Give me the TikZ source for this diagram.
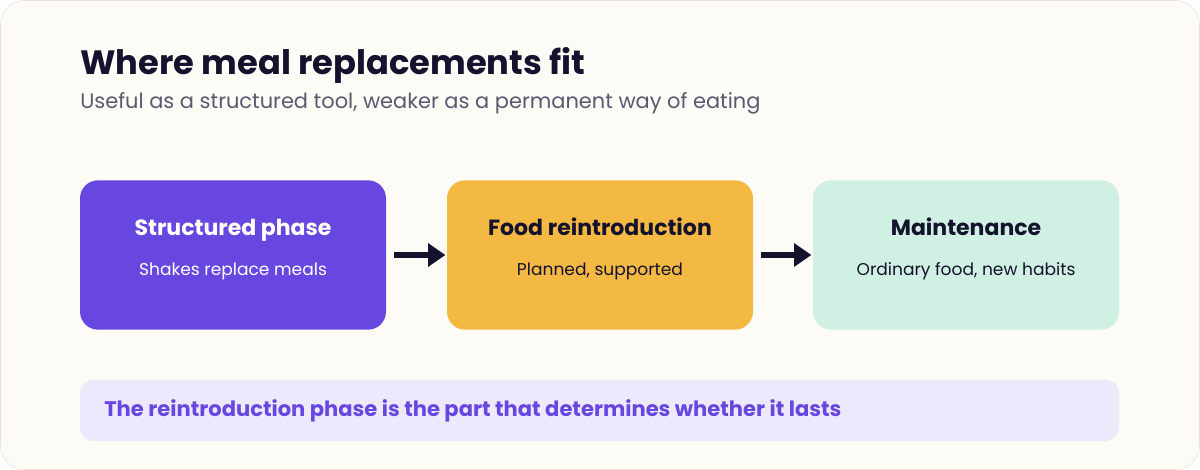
\documentclass[tikz,border=0pt]{standalone}
\usepackage{fontspec}
\setmainfont{Poppins}
\usetikzlibrary{arrows.meta,positioning}
\definecolor{bgpaper}{HTML}{FDFBF6}
\definecolor{bgline}{HTML}{E6E3DC}
\definecolor{navy}{HTML}{15122E}
\definecolor{greytext}{HTML}{5B5870}
\definecolor{phasepurple}{HTML}{6847E0}
\definecolor{phaseorange}{HTML}{F4B942}
\definecolor{phasemint}{HTML}{D1F0E4}
\definecolor{notebg}{HTML}{ECE9FC}
\tikzset{
  phase/.style={rounded corners=13.5pt,minimum width=229.5pt,minimum height=112pt,inner sep=0pt},
  phtitle/.style={anchor=base,font=\fontsize{16.5}{20}\selectfont\bfseries},
  phsub/.style={anchor=base,font=\fontsize{12.8}{15}\selectfont},
  phasearrow/.style={-{Triangle[length=13pt,width=17pt]},line width=4.5pt,navy},
}
\begin{document}
\begin{tikzpicture}[x=0.75pt,y=-0.75pt]
  \useasboundingbox (0,0) rectangle (1200,470);
  \fill[white] (0,0) rectangle (1200,470);
  \draw[bgline,fill=bgpaper,rounded corners=18pt] (0.5,0.5) rectangle (1199.5,469.5);

  % Heading
  \node[anchor=base west,inner sep=0pt,navy,font=\fontsize{25.3}{30}\selectfont\bfseries] (title) at (80,75) {Where meal replacements fit};
  \node[anchor=base west,inner sep=0pt,greytext,font=\fontsize{15.7}{19}\selectfont] (subtitle) at (80,109) {Useful as a structured tool, weaker as a permanent way of eating};

  % Phases
  \node[phase,fill=phasepurple] (structured) at (233,255) {};
  \node[phase,fill=phaseorange] (reintro) at (600,255) {};
  \node[phase,fill=phasemint] (maint) at (966,255) {};

  \node[phtitle,white] at (233,236) {Structured phase};
  \node[phsub,white] at (233,276) {Shakes replace meals};
  \node[phtitle,navy] at (600,236) {Food reintroduction};
  \node[phsub,navy] at (600,276) {Planned, supported};
  \node[phtitle,navy] at (966,236) {Maintenance};
  \node[phsub,navy] at (966,276) {Ordinary food, new habits};

  \draw[phasearrow] ([xshift=6pt]structured.east) -- ([xshift=-1pt]reintro.west);
  \draw[phasearrow] ([xshift=6pt]reintro.east) -- ([xshift=-1pt]maint.west);

  % Note
  \fill[notebg,rounded corners=10pt] (80,380) rectangle (1119,441);
  \node[anchor=west,inner sep=0pt,phasepurple,font=\fontsize{15.8}{19}\selectfont\bfseries] (note) at (104,411) {The reintroduction phase is the part that determines whether it lasts};
\end{tikzpicture}
\end{document}
